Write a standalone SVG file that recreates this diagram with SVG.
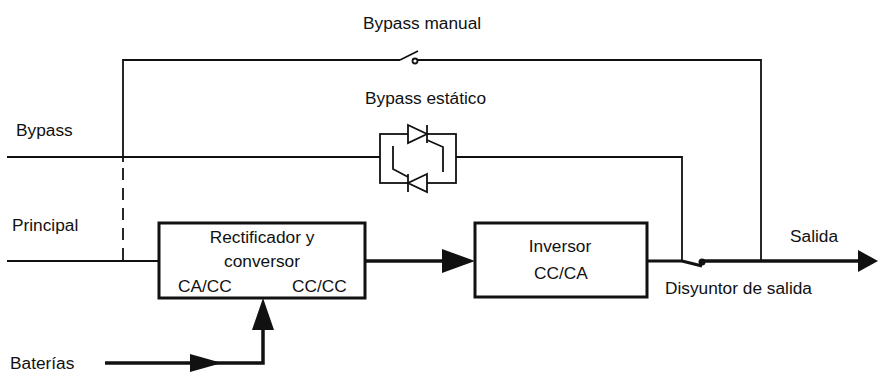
<svg xmlns="http://www.w3.org/2000/svg" width="878" height="372" viewBox="0 0 878 372">
<style>
text{font-family:"Liberation Sans",Arial,sans-serif;font-size:17.3px;fill:#111}
.m{text-anchor:middle}
.thin{fill:none;stroke:#111;stroke-width:1.8}
.thick{fill:none;stroke:#111;stroke-width:3.5}
.box{fill:#fff;stroke:#111;stroke-width:3}
.head{fill:#111;stroke:none}
</style>
<rect width="878" height="372" fill="#fff"/>
<g id="connectors">
  <!-- manual bypass -->
  <polyline class="thin" points="123,162 123,60 400,60"/>
  <line class="thin" x1="400" y1="60" x2="418" y2="51"/>
  <circle cx="415" cy="61" r="2.5" fill="none" stroke="#111" stroke-width="1.8"/>
  <polyline class="thin" points="417,60 761,60 761,261"/>
  <line class="thin" x1="123" y1="168" x2="123" y2="261" stroke-dasharray="12 8"/>
  <!-- bypass line -->
  <line class="thin" x1="7" y1="157" x2="380" y2="157"/>
  <polyline class="thin" points="456,157 682,157 682,261"/>
  <!-- principal line -->
  <line class="thin" x1="7" y1="261" x2="159" y2="261"/>
  <!-- rectifier to inverter -->
  <line class="thick" x1="365" y1="261" x2="445" y2="261"/>
  <polygon class="head" points="442,249 475,261 442,273"/>
  <!-- battery -->
  <polyline class="thick" points="105,363 263,363 263,328"/>
  <polygon class="head" points="190,354 222,363 190,372"/>
  <polygon class="head" points="252,330 263,298 274,330"/>
  <!-- inverter output & breaker -->
  <line class="thick" x1="647" y1="261" x2="682" y2="261" style="stroke-width:3"/>
  <line class="thick" x1="682" y1="261" x2="702" y2="266" style="stroke-width:3"/>
  <circle cx="702" cy="262" r="3.5" fill="#111"/>
  <line class="thick" x1="702" y1="261" x2="860" y2="261"/>
  <polygon class="head" points="858,250 878,261 858,272"/>
</g>
<g id="static-bypass">
  <rect x="380" y="134" width="76" height="49" class="thin"/>
  <!-- top thyristor -->
  <polygon points="408,125 427,134 408,143" fill="#fff" stroke="#111" stroke-width="1.8"/>
  <line class="thin" x1="427" y1="125" x2="427" y2="143"/>
  <polyline class="thin" points="427,140 443,147 443,172"/>
  <!-- bottom thyristor -->
  <polygon points="427,174 408,183 427,192" fill="#fff" stroke="#111" stroke-width="1.8"/>
  <line class="thin" x1="408" y1="174" x2="408" y2="192"/>
  <polyline class="thin" points="408,177 393,169 393,146"/>
</g>
<g id="rectifier">
  <rect x="159" y="223" width="206" height="75" class="box"/>
  <text x="262" y="243" class="m">Rectificador y</text>
  <text x="262" y="267" class="m">conversor</text>
  <text x="178" y="292">CA/CC</text>
  <text x="292" y="292">CC/CC</text>
</g>
<g id="inverter">
  <rect x="475" y="223" width="172" height="74" class="box"/>
  <text x="560" y="252" class="m">Inversor</text>
  <text x="561" y="279" class="m">CC/CA</text>
</g>
<g id="labels">
  <text x="363" y="29">Bypass manual</text>
  <text x="365" y="104">Bypass estático</text>
  <text x="16" y="136">Bypass</text>
  <text x="12" y="231">Principal</text>
  <text x="10" y="369">Baterías</text>
  <text x="790" y="242">Salida</text>
  <text x="665" y="294">Disyuntor de salida</text>
</g>
</svg>
